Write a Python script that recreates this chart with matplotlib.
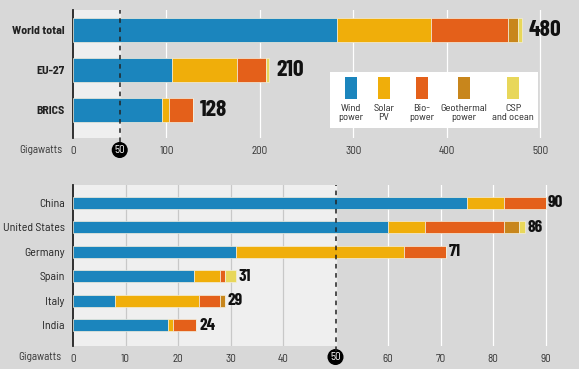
import matplotlib
matplotlib.use("Agg")
import matplotlib.pyplot as plt
import matplotlib.transforms as mtransforms
from matplotlib.patches import Rectangle
import numpy as np

# data (gigawatts)
sources = ["Wind\npower", "Solar\nPV", "Bio-\npower", "Geothermal\npower", "CSP\nand ocean"]
colors = ["#1b85bd", "#f0ae0a", "#e4601a", "#c8861c", "#e8d75a"]

top_regions = ["World total", "EU-27", "BRICS"]
top_wind = [283, 106, 95]
top_solar = [100, 69, 8]
top_bio = [82, 31, 25]
top_geo = [11, 1, 0]
top_csp = [4, 3, 0]
top_totals = [480, 210, 128]

countries = ["China", "United States", "Germany", "Spain", "Italy", "India"]
c_wind = [75, 60, 31, 23, 8, 18]
c_solar = [7, 7, 32, 5, 16, 1]
c_bio = [8, 15, 8, 1, 4, 4.5]
c_geo = [0, 3, 0, 0, 1, 0]
c_csp = [0, 1, 0, 2, 0, 0]
c_totals = [90, 86, 71, 31, 29, 24]

top_ticks = [0, 50, 100, 200, 300, 400, 500]
bot_ticks = [0, 10, 20, 30, 40, 50, 60, 70, 80, 90]

W, H = 579, 369
BG = "#d8d8d8"
LIGHT = "#efefef"
NUM = ["Barlow Condensed", "DejaVu Sans"]
LAB = ["Barlow Semi Condensed", "DejaVu Sans"]
plt.rcParams["font.family"] = LAB


def px(x0, y0, x1, y1):
    # pixel box -> figure fraction rect
    return [x0 / W, 1 - y1 / H, (x1 - x0) / W, (y1 - y0) / H]


fig = plt.figure(figsize=(W / 100, H / 100), dpi=100, facecolor=BG)
axT = fig.add_axes(px(73, 10, 559, 138))
axB = fig.add_axes(px(73, 185, 577, 346))


def panel(ax, labels, series, totals, xmax, ticks, span_h, bold, vsize, vgap, tick_y):
    ax.set_facecolor(BG)
    ax.axvspan(0, 50, color=LIGHT, zorder=0)
    for t in ticks:
        if t in (0, 50):
            continue
        ax.axvline(t, color="#c8c8c8" if t < 50 else "white", lw=0.9, zorder=1)
    y = np.arange(len(labels))
    left = np.zeros(len(labels))
    for vals, c in zip(series, colors):
        v = np.array(vals, dtype=float)
        ax.barh(y, v, span_h, left=left, color=c, edgecolor="#f3eedc", lw=0.5, zorder=3)
        left += v
    for yi, end, tot in zip(y, left, totals):
        ax.text(end + vgap, yi, str(tot), va="center", ha="left", fontsize=vsize,
                fontweight="bold", family=NUM, color="#111111", zorder=5)
    ax.axvline(50, color="#222222", lw=1.1, ls=(0, (3, 3)), zorder=4, ymin=-0.03, clip_on=False)
    ax.set_xlim(0, xmax)
    ax.set_yticks(y)
    ax.set_yticklabels(labels, fontsize=8.5, fontweight="bold" if bold else "normal", color="#222222")
    ax.set_xticks(ticks)
    ax.set_xticklabels([("" if t == 50 else str(t)) for t in ticks], fontsize=8, color="#333333")
    ax.tick_params(length=0, pad=6)
    ax.tick_params(axis="y", pad=6)
    for s in ["top", "right", "bottom"]:
        ax.spines[s].set_visible(False)
    ax.spines["left"].set_color("#222222")
    ax.spines["left"].set_linewidth(1.3)
    tr = mtransforms.blended_transform_factory(ax.transData, ax.transAxes)
    ax.text(50, tick_y, "50", transform=tr, ha="center", va="center", fontsize=8, color="white",
            bbox=dict(boxstyle="circle,pad=0.18", fc="black", ec="black"))
    ax.text(-0.066, tick_y, "Gigawatts", transform=ax.transAxes, ha="center", va="center",
            fontsize=8, color="#333333")


panel(axT, top_regions, [top_wind, top_solar, top_bio, top_geo, top_csp], top_totals,
      520, top_ticks, 0.6, True, 17, 8, -12 / 128)
axT.set_ylim(2.7, -0.5)

panel(axB, countries, [c_wind, c_solar, c_bio, c_geo, c_csp], c_totals,
      96, bot_ticks, 0.49, False, 12.5, 0.5, -11 / 161)
axB.set_ylim(5.85, -0.72)

# legend box
fig.add_artist(Rectangle((330 / W, 1 - 128 / H), 208 / W, 56 / H, transform=fig.transFigure,
                         fc="white", ec="none", zorder=6))
for cx, c, lab in zip([351, 384, 422, 464, 513], colors, sources):
    fig.add_artist(Rectangle(((cx - 6) / W, 1 - 99 / H), 12 / W, 22 / H, transform=fig.transFigure,
                             fc=c, ec="none", zorder=7))
    fig.text(cx / W, 1 - 113 / H, lab, ha="center", va="center", fontsize=7.5,
             color="#222222", linespacing=0.95, zorder=8)

fig.savefig("out.png", dpi=100, facecolor=BG)
